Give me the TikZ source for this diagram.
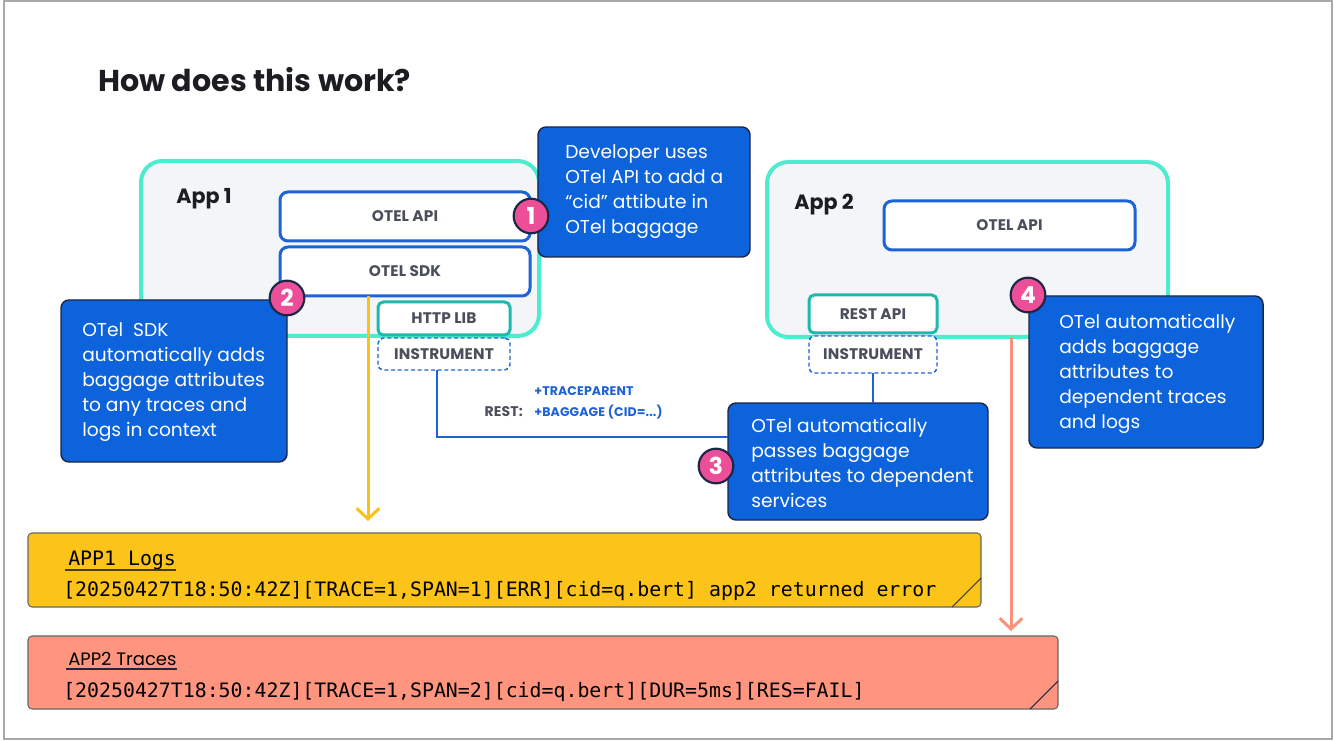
\documentclass[tikz,border=0pt]{standalone}
\usepackage{fontspec}
\setmainfont{Poppins}
\newfontfamily\monofont{DejaVu Sans Mono}
\newfontfamily\lblfont[LetterSpace=1]{Poppins}
\usetikzlibrary{arrows.meta,calc}
\definecolor{cblue}{HTML}{0C63DB}
\definecolor{cnavy}{HTML}{1C2748}
\definecolor{bblue}{HTML}{1E63D6}
\definecolor{aqua}{HTML}{4EECCF}
\definecolor{appfill}{HTML}{F4F5F9}
\definecolor{cteal}{HTML}{1DBAAB}
\definecolor{cpink}{HTML}{EC4F97}
\definecolor{ylw}{HTML}{FCC419}
\definecolor{ylwline}{HTML}{F9C21B}
\definecolor{salmon}{HTML}{FF957F}
\definecolor{salline}{HTML}{F8927C}
\definecolor{lblgray}{HTML}{4A4F5B}
\definecolor{ttl}{HTML}{1C1D22}
\definecolor{frame}{HTML}{A8A8A8}
\tikzset{
  appbox/.style={draw=aqua, line width=3pt, fill=appfill, rounded corners=16pt, inner sep=0pt, outer sep=0pt},
  lbl/.style={text=lblgray, font=\lblfont\bfseries\fontsize{11.5}{13}\selectfont},
  apibox/.style={lbl, draw=bblue, line width=2.25pt, fill=white, rounded corners=6pt, inner sep=0pt, outer sep=0pt},
  libbox/.style={lbl, draw=cteal, line width=2.25pt, fill=white, rounded corners=4pt, inner sep=0pt, outer sep=0pt},
  instbox/.style={lbl, draw=bblue, line width=1.1pt, dash pattern=on 3pt off 2pt, fill=white, rounded corners=4pt, inner sep=0pt, outer sep=0pt},
  callout/.style={draw=cnavy, line width=1.1pt, fill=cblue, rounded corners=6pt, inner sep=0pt, outer sep=0pt},
  ctext/.style={text=white, align=left, anchor=west, inner sep=0pt, font=\fontsize{14}{18.75}\selectfont},
  badge/.style={circle, draw=cnavy, line width=1.6pt, fill=cpink, text=white, minimum size=26pt, inner sep=0pt, font=\bfseries\fontsize{17.5}{18}\selectfont},
  logbox/.style={draw=black!60, line width=0.8pt, rounded corners=3pt, inner sep=0pt, outer sep=0pt},
  monotext/.style={anchor=base west, inner sep=0pt, text=black, font=\monofont\fontsize{14.9}{16}\selectfont},
  flowarrow/.style={line width=2.25pt, -{Straight Barb[length=8pt,width=17pt]}},
  blueconn/.style={draw=bblue, line width=1.5pt},
}
\begin{document}
\begin{tikzpicture}[x=0.75pt,y=-0.75pt]
\useasboundingbox (0,0) rectangle (1334,741);
\draw[frame, line width=1.8pt] (4,1) rectangle (1332,739);

\node[anchor=base west, inner sep=0pt, text=ttl, font=\bfseries\fontsize{22.6}{25}\selectfont] (title) at (98,92) {How does this work?};

% App boxes
\node[appbox, minimum width={398*0.75pt}, minimum height={175*0.75pt}] (app1) at (340,248.5) {};
\node[appbox, minimum width={401*0.75pt}, minimum height={175*0.75pt}] (app2) at (967.5,249.5) {};
\node[anchor=west, inner sep=0pt, text=ttl, font=\bfseries\fontsize{15.5}{18}\selectfont] (app1l) at (176,199) {App 1};
\node[anchor=west, inner sep=0pt, text=ttl, font=\bfseries\fontsize{15.5}{18}\selectfont] (app2l) at (794,205) {App 2};

% connector end points
\coordinate (ytip) at (368,521);
\coordinate (stip) at (1011,631);
\coordinate (bend) at (437,437);

% App 1 inner boxes
\node[apibox, minimum width={250*0.75pt}, minimum height={49*0.75pt}] (api1) at (405,216.5) {OTEL API};
\node[apibox, minimum width={250*0.75pt}, minimum height={49*0.75pt}] (sdk1) at (405,271.5) {OTEL SDK};
\draw[ylwline, flowarrow] (sdk1.south -| ytip) -- (ytip);
\node[libbox, minimum width={132*0.75pt}, minimum height={33*0.75pt}] (http) at (444,318.5) {HTTP LIB};
\node[instbox, minimum width={132*0.75pt}, minimum height={32*0.75pt}] (inst1) at (444,354) {INSTRUMENT};

% App 2 inner boxes
\node[apibox, minimum width={251*0.75pt}, minimum height={49*0.75pt}] (api2) at (1009.5,225.5) {OTEL API};
\node[libbox, minimum width={128*0.75pt}, minimum height={38*0.75pt}] (rest) at (873,314) {REST API};
\node[instbox, minimum width={128*0.75pt}, minimum height={37*0.75pt}] (inst2) at (873,354.5) {INSTRUMENT};
\draw[salline, flowarrow] (app2.south -| stip) -- (stip);

% Callouts
\node[callout, minimum width={212*0.75pt}, minimum height={130*0.75pt}] (c1) at (644,192) {};
\node[callout, minimum width={226*0.75pt}, minimum height={162*0.75pt}] (c2) at (174,381) {};
\node[callout, minimum width={260*0.75pt}, minimum height={117*0.75pt}] (c3) at (858,461.5) {};
\node[callout, minimum width={234*0.75pt}, minimum height={152*0.75pt}] (c4) at (1146,372) {};

% REST connector
\draw[blueconn] (bend |- inst1.south) -- (bend) -- (bend -| c3.west);
\draw[blueconn] (inst2.south) -- (inst2.south |- c3.north);
\node[anchor=base east, inner sep=0pt, text=lblgray, font=\lblfont\bfseries\fontsize{10.5}{12}\selectfont] (restl) at (523,416) {REST:};
\node[anchor=base west, inner sep=0pt, text=bblue, font=\lblfont\bfseries\fontsize{9.4}{10}\selectfont] (tp) at (534,395) {+TRACEPARENT};
\node[anchor=base west, inner sep=0pt, text=bblue, font=\lblfont\bfseries\fontsize{9.4}{10}\selectfont] (bg) at (534,416) {+BAGGAGE (CID=...)};

\node[ctext] (c1t) at (565,192) {Developer uses\\OTel API to add a\\“cid” attibute in\\OTel baggage};
\node[ctext] (c2t) at (82,382) {OTel\ \ SDK\\automatically adds\\baggage attributes\\to any traces and\\logs in context};
\node[ctext] (c3t) at (751,463) {OTel automatically\\passes baggage\\attributes to dependent\\services};
\node[ctext] (c4t) at (1059,374) {OTel automatically\\adds baggage\\attributes to\\dependent traces\\and logs};

% Badges
\node[badge] (b1) at (531,216) {1};
\node[badge] (b2) at (287,298) {2};
\node[badge] (b3) at (716,466) {3};
\node[badge] (b4) at (1028,295) {4};

% Log boxes
\node[logbox, fill=ylw, minimum width={953*0.75pt}, minimum height={74*0.75pt}] (log1) at (504.5,570) {};
\draw[black!75, line width=0.8pt] ($(log1.south east)+(-29,0)$) -- ($(log1.south east)+(0,-29)$);
\node[monotext] (log1t) at (68,565) {APP1 Logs};
\draw[black!50!ylw!60!black, line width=1.6pt] ($(log1t.base west)+(-3,5)$) -- ($(log1t.base east)+(0,5)$);
\node[monotext] (log1l) at (63,596) {[20250427T18:50:42Z][TRACE=1,SPAN=1][ERR][cid=q.bert] app2 returned error};

\node[logbox, fill=salmon, minimum width={1030*0.75pt}, minimum height={73*0.75pt}] (log2) at (543,672.5) {};
\draw[cnavy, line width=0.8pt] ($(log2.south east)+(-28,0)$) -- ($(log2.south east)+(0,-28)$);
\node[anchor=base west, inner sep=0pt, text=black, font=\fontsize{13.5}{16}\selectfont] (log2t) at (68,665) {APP2 Traces};
\draw[cnavy, line width=1.2pt] ($(log2t.base west)+(-2,4)$) -- ($(log2t.base east)+(0,4)$);
\node[monotext] (log2l) at (63,697) {[20250427T18:50:42Z][TRACE=1,SPAN=2][cid=q.bert][DUR=5ms][RES=FAIL]};
\end{tikzpicture}
\end{document}
